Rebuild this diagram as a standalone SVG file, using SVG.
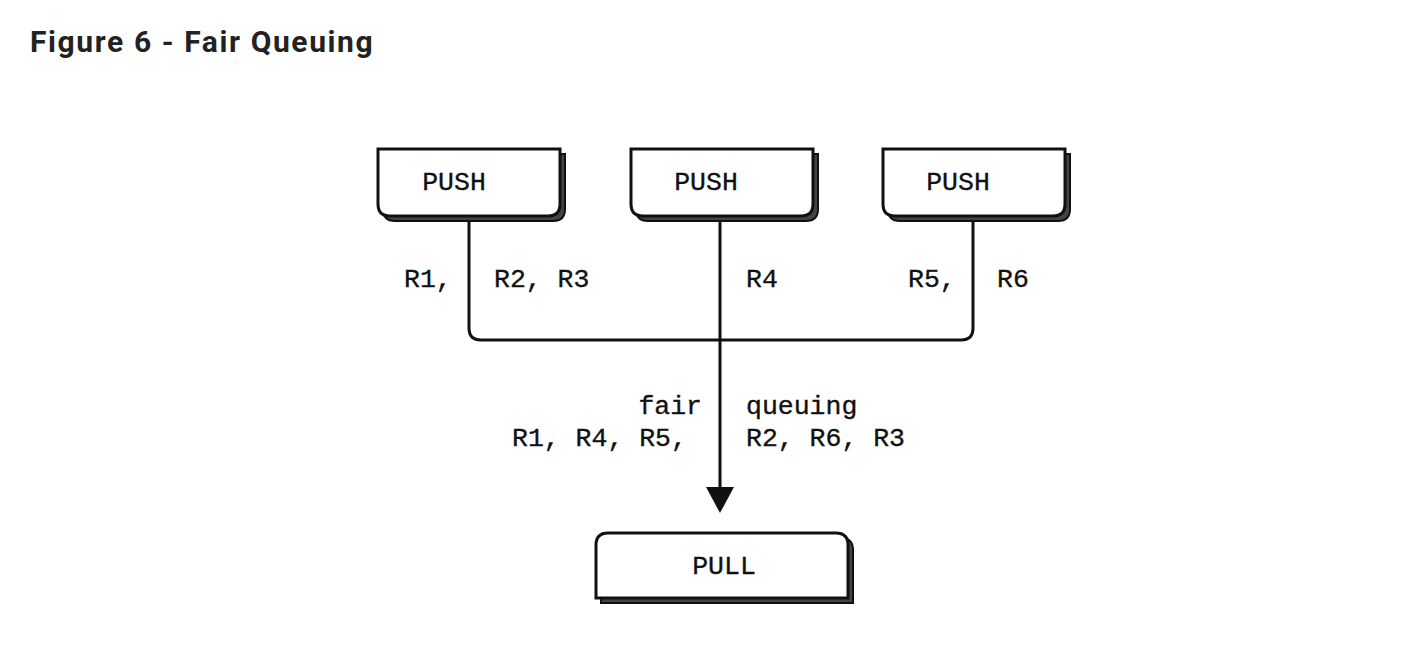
<svg xmlns="http://www.w3.org/2000/svg" width="1416" height="666" viewBox="0 0 1416 666">
<defs>
<style>
.title{font-family:Roboto,"Liberation Sans",sans-serif;font-weight:bold;font-size:30px;letter-spacing:1.6px;fill:#222}
.t{font-family:"Liberation Mono","DejaVu Sans Mono",monospace;font-size:26.5px;fill:#111;stroke:#111;stroke-width:0.35}
.box{fill:#fff;stroke:#111;stroke-width:3}
.sh{fill:#444;stroke:#111;stroke-width:2}
.ln{fill:none;stroke:#111;stroke-width:3}
</style>
<path id="pushShape" d="M0,0 H182 V55 Q182,67 170,67 H12 Q0,67 0,55 Z"/>
<path id="pullShape" d="M12,0 H240 Q252,0 252,12 V65 H0 V12 Q0,0 12,0 Z"/>
</defs>
<rect width="1416" height="666" fill="#fff"/>
<text class="title" x="30" y="52">Figure 6 - Fair Queuing</text>

<g id="connectors">
<path class="ln" d="M469,216 V328 Q469,340 481,340 H961 Q973,340 973,328 V216"/>
<path class="ln" d="M720,216 V490"/>
<polygon points="706,487 734,487 720,513" fill="#111"/>
</g>

<g id="push1">
<use href="#pushShape" class="sh" x="383" y="154"/>
<use href="#pushShape" class="box" x="378" y="149"/>
<text class="t" x="454" y="190" text-anchor="middle">PUSH</text>
</g>
<g id="push2">
<use href="#pushShape" class="sh" x="636" y="154"/>
<use href="#pushShape" class="box" x="631" y="149"/>
<text class="t" x="706" y="190" text-anchor="middle">PUSH</text>
</g>
<g id="push3">
<use href="#pushShape" class="sh" x="888" y="154"/>
<use href="#pushShape" class="box" x="883" y="149"/>
<text class="t" x="958" y="190" text-anchor="middle">PUSH</text>
</g>
<g id="pull">
<use href="#pullShape" class="sh" x="601" y="538"/>
<use href="#pullShape" class="box" x="596" y="533"/>
<text class="t" x="724" y="574" text-anchor="middle">PULL</text>
</g>

<g id="labels">
<text class="t" x="404" y="287">R1,</text>
<text class="t" x="494" y="287">R2, R3</text>
<text class="t" x="746" y="287">R4</text>
<text class="t" x="908" y="287">R5,</text>
<text class="t" x="997" y="287">R6</text>
<text class="t" x="702" y="414" text-anchor="end">fair</text>
<text class="t" x="746" y="414">queuing</text>
<text class="t" x="512" y="446">R1, R4, R5,</text>
<text class="t" x="746" y="446">R2, R6, R3</text>
</g>
</svg>
